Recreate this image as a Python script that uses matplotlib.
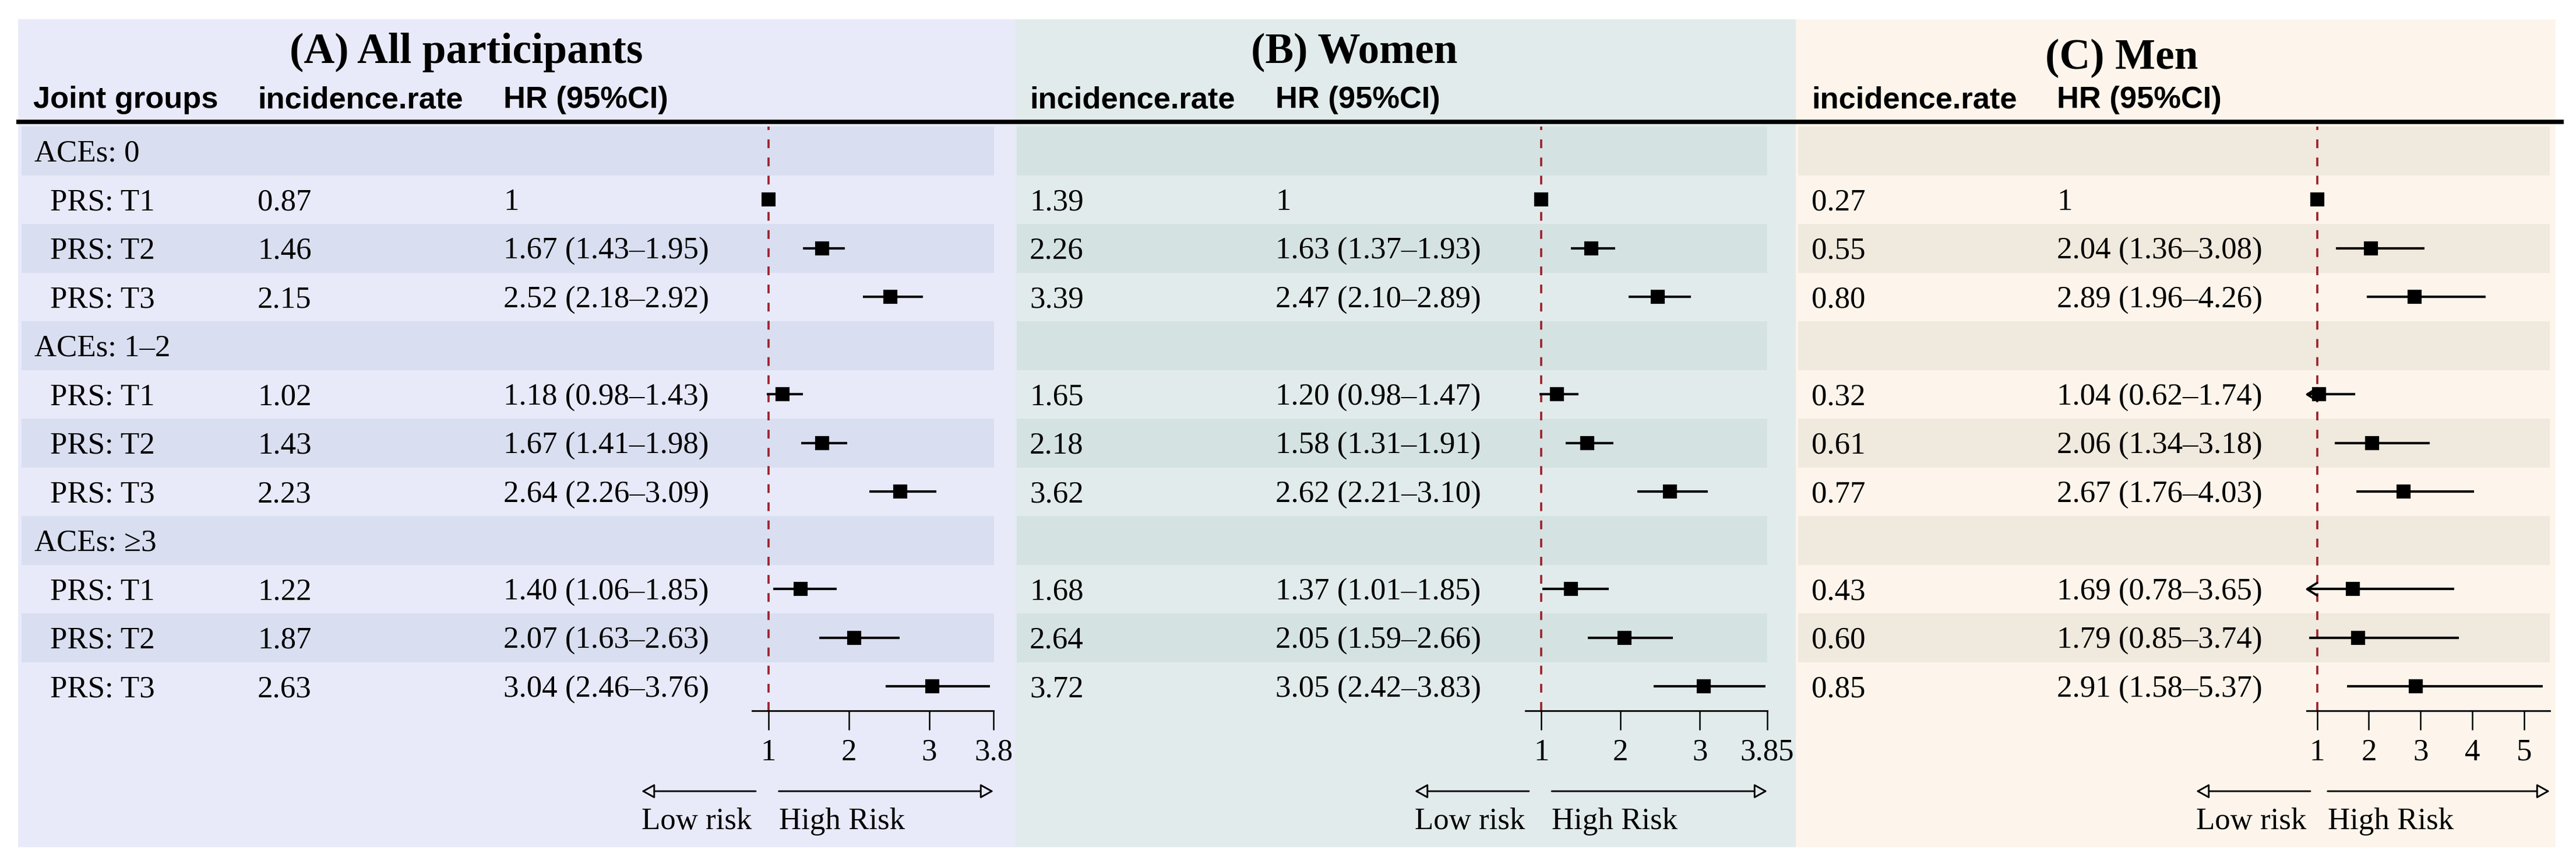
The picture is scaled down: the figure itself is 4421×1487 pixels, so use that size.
import matplotlib
matplotlib.use('Agg')
import matplotlib.pyplot as plt
from matplotlib.lines import Line2D
from matplotlib.patches import Rectangle
from matplotlib.path import Path

W, H, DPI = 4421, 1487, 300
SERIF = ['Liberation Serif', 'DejaVu Serif']
SANS = ['Liberation Sans', 'DejaVu Sans']

# ---- data ----
groups = ['ACEs: 0', 'ACEs: 1–2', 'ACEs: ≥3']
subgroups = ['PRS: T1', 'PRS: T2', 'PRS: T3']

all_rate = ['0.87', '1.46', '2.15', '1.02', '1.43', '2.23', '1.22', '1.87', '2.63']
all_hr = [1, 1.67, 2.52, 1.18, 1.67, 2.64, 1.40, 2.07, 3.04]
all_lo = [None, 1.43, 2.18, 0.98, 1.41, 2.26, 1.06, 1.63, 2.46]
all_hi = [None, 1.95, 2.92, 1.43, 1.98, 3.09, 1.85, 2.63, 3.76]

women_rate = ['1.39', '2.26', '3.39', '1.65', '2.18', '3.62', '1.68', '2.64', '3.72']
women_hr = [1, 1.63, 2.47, 1.20, 1.58, 2.62, 1.37, 2.05, 3.05]
women_lo = [None, 1.37, 2.10, 0.98, 1.31, 2.21, 1.01, 1.59, 2.42]
women_hi = [None, 1.93, 2.89, 1.47, 1.91, 3.10, 1.85, 2.66, 3.83]

men_rate = ['0.27', '0.55', '0.80', '0.32', '0.61', '0.77', '0.43', '0.60', '0.85']
men_hr = [1, 2.04, 2.89, 1.04, 2.06, 2.67, 1.69, 1.79, 2.91]
men_lo = [None, 1.36, 1.96, 0.62, 1.34, 1.76, 0.78, 0.85, 1.58]
men_hi = [None, 3.08, 4.26, 1.74, 3.18, 4.03, 3.65, 3.74, 5.37]

# ---- layout (pixels, origin top-left) ----
ROW_TOP, ROW_H, NROW = 217, 83.5, 12
ROW_BOT = ROW_TOP + ROW_H * NROW
PANEL_TOP, PANEL_BOT = 33, 1453

panels = [
    dict(title='(A) All participants', tx=800, ty=108, bg='#E8EAF9', band='#D9DEF0',
         x0=31, x1=1742, b0=37, b1=1706, f0=1291, f1=1705,
         xlim=(0.8, 3.8), ticks=[1, 2, 3, 3.8], rate_x=442, hr_x=864,
         rate=all_rate, hr=all_hr, lo=all_lo, hi=all_hi),
    dict(title='(B) Women', tx=2324, ty=108, bg='#E2EBEB', band='#D5E2E2',
         x0=1742, x1=3082, b0=1745, b1=3033, f0=2618, f1=3033,
         xlim=(0.8, 3.85), ticks=[1, 2, 3, 3.85], rate_x=1767, hr_x=2189,
         rate=women_rate, hr=women_hr, lo=women_lo, hi=women_hi),
    dict(title='(C) Men', tx=3641, ty=118, bg='#FDF5EB', band='#F0E9DD',
         x0=3082, x1=4386, b0=3086, b1=4376, f0=3959, f1=4376,
         xlim=(0.8, 5.5), ticks=[1, 2, 3, 4, 5], rate_x=3109, hr_x=3530,
         rate=men_rate, hr=men_hr, lo=men_lo, hi=men_hi),
]


def frect(x0, y0, x1, y1):
    return [x0 / W, 1 - y1 / H, (x1 - x0) / W, (y1 - y0) / H]


def yrow(ypx):
    return (ypx - ROW_TOP) / ROW_H - 0.5


BASE = 18 / ROW_H  # baseline offset below row centre
data_rows = [g * 4 + 1 + j for g in range(3) for j in range(3)]
chevron = Path([(1.6, 1), (0, 0), (1.6, -1)], [Path.MOVETO, Path.LINETO, Path.LINETO])

fig = plt.figure(figsize=(W / DPI, H / DPI), dpi=DPI)
fig.patch.set_facecolor('white')

for p in panels:
    fig.add_artist(Rectangle((p['x0'] / W, 1 - PANEL_BOT / H), (p['x1'] - p['x0']) / W,
                             (PANEL_BOT - PANEL_TOP) / H, transform=fig.transFigure,
                             fc=p['bg'], ec='none', zorder=-5))

    tab = fig.add_axes(frect(p['b0'], ROW_TOP, p['b1'], ROW_BOT))
    tab.set_xlim(p['b0'], p['b1'])
    tab.set_ylim(NROW - 0.5, -0.5)
    tab.axis('off')
    for r in range(0, NROW, 2):
        tab.axhspan(r - 0.5, r + 0.5, color=p['band'], lw=0, zorder=0)

    tab.text(p['tx'], yrow(p['ty']), p['title'], ha='center', va='baseline',
             fontfamily=SERIF, fontweight='bold', fontsize=17.6)
    if p is panels[0]:
        tab.text(57, yrow(185), 'Joint groups', ha='left', va='baseline',
                 fontfamily=SANS, fontweight='bold', fontsize=12.6)
        for g, name in enumerate(groups):
            tab.text(59, g * 4 + BASE, name, va='baseline', fontfamily=SERIF, fontsize=12.7)
            for j, sub in enumerate(subgroups):
                tab.text(86, g * 4 + 1 + j + BASE, sub, va='baseline',
                         fontfamily=SERIF, fontsize=12.7)
    tab.text(p['rate_x'], yrow(185), 'incidence.rate', ha='left', va='baseline',
             fontfamily=SANS, fontweight='bold', fontsize=12.6)
    tab.text(p['hr_x'], yrow(185), 'HR (95%CI)', ha='left', va='baseline',
             fontfamily=SANS, fontweight='bold', fontsize=12.6)

    for k, r in enumerate(data_rows):
        lo, hi, hr = p['lo'][k], p['hi'][k], p['hr'][k]
        label = '1' if lo is None else f'{hr:.2f} ({lo:.2f}–{hi:.2f})'
        tab.text(p['rate_x'], r + BASE, p['rate'][k], va='baseline',
                 fontfamily=SERIF, fontsize=12.7)
        tab.text(p['hr_x'], r + BASE, label, va='baseline',
                 fontfamily=SERIF, fontsize=12.7)

    # forest panel
    fa = fig.add_axes(frect(p['f0'], ROW_TOP, p['f1'], ROW_BOT))
    fa.patch.set_visible(False)
    xmin, xmax = p['xlim']
    fa.set_xlim(xmin, xmax)
    fa.set_ylim(NROW - 0.5, -0.5)
    for s in ['top', 'left', 'right']:
        fa.spines[s].set_visible(False)
    fa.spines['bottom'].set_linewidth(0.7)
    fa.set_yticks([])
    fa.set_xticks(p['ticks'])
    fa.set_xticklabels([f'{t:g}' for t in p['ticks']], fontfamily=SERIF, fontsize=12.7)
    fa.tick_params(axis='x', direction='out', length=7.9, width=0.6, pad=3.5)

    fa.axvline(1, color='#9E2430', lw=0.9, ls=(0, (4, 4.3)), zorder=1)
    for k, r in enumerate(data_rows):
        lo, hi, hr = p['lo'][k], p['hi'][k], p['hr'][k]
        if lo is not None:
            fa.hlines(r, max(lo, xmin), min(hi, xmax), color='black', lw=1.0, zorder=2)
            if lo < xmin:
                fa.plot(xmin, r, marker=chevron, ms=8.8, mfc='none', mec='black',
                        mew=0.9, zorder=3, clip_on=False)
        fa.plot(hr, r, marker='s', ms=4.7, color='black', zorder=4, lw=0)

    # direction arrows
    fw = p['f1'] - p['f0']
    ref = (1 - xmin) / (xmax - xmin)
    ya = -(1357 - ROW_BOT) / (ROW_BOT - ROW_TOP)
    yt = -(1422 - ROW_BOT) / (ROW_BOT - ROW_TOP)
    lx0, lx1 = -190 / fw, 6 / fw
    rx0, rx1 = ref + 18 / fw, 1.0
    ap = dict(arrowstyle='-|>,head_length=0.45,head_width=0.25', lw=0.7,
              ec='black', fc=p['bg'], shrinkA=0, shrinkB=0, mutation_scale=10)
    fa.annotate('', xy=(lx0, ya), xytext=(lx1, ya), xycoords='axes fraction',
                arrowprops=ap, annotation_clip=False)
    fa.annotate('', xy=(rx1, ya), xytext=(rx0, ya), xycoords='axes fraction',
                arrowprops=ap, annotation_clip=False)
    fa.text(lx0, yt, 'Low risk', transform=fa.transAxes, ha='left', va='baseline',
            fontfamily=SERIF, fontsize=12.7)
    fa.text(rx0, yt, 'High Risk', transform=fa.transAxes, ha='left', va='baseline',
            fontfamily=SERIF, fontsize=12.7)

fig.add_artist(Line2D([28 / W, 4400 / W], [1 - 209 / H] * 2, transform=fig.transFigure,
                      color='black', lw=1.8, solid_capstyle='butt', zorder=10))

fig.savefig('out.png', dpi=DPI, facecolor='white')
